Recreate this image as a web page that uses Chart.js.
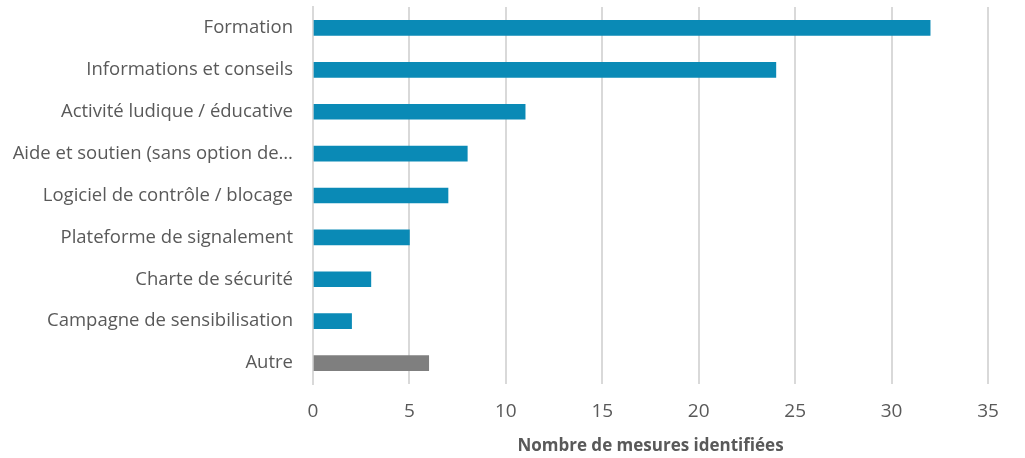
<!DOCTYPE html>
<html>
<head>
<meta charset="utf-8">
<script src="https://cdn.jsdelivr.net/npm/chart.js@4/dist/chart.umd.min.js"></script>
<style>
    html, body { margin: 0; padding: 0; background: #fff; }
    #wrap { width: 1025px; height: 458px; position: relative; }
</style>
</head>
<body>
<div id="wrap"><canvas id="myChart"></canvas></div>
<script>
const categories = [
    'Formation',
    'Informations et conseils',
    'Activité ludique / éducative',
    'Aide et soutien (sans option de…',
    'Logiciel de contrôle / blocage',
    'Plateforme de signalement',
    'Charte de sécurité',
    'Campagne de sensibilisation',
    'Autre'
];
const mesures = [32, 24, 11, 8, 7, 5, 3, 2, 6];
const xTicks = [0, 5, 10, 15, 20, 25, 30, 35];

const blue = '#0a8ab6';
const grey = '#7f7f7f';
const barColors = categories.map((c) => c === 'Autre' ? grey : blue);

const fontFamily = '"Open Sans", Lato, sans-serif';

var ctx = document.getElementById('myChart').getContext('2d');

var chart = new Chart(ctx, {
    type: 'bar',
    data: {
        labels: categories,
        datasets: [
            {
                label: 'Nombre de mesures identifiées',
                backgroundColor: barColors,
                data: mesures,
                barThickness: 15
            }
        ]
    },
    options: {
        indexAxis: 'y',
        responsive: true,
        maintainAspectRatio: false,
        animation: false,
        layout: { padding: { top: 7, right: 37, left: 0, bottom: 0 } },
        plugins: {
            legend: { display: false },
            tooltip: { enabled: false }
        },
        scales: {
            x: {
                min: 0,
                max: 35,
                afterBuildTicks: (scale) => {
                    scale.ticks = xTicks.map((v) => ({ value: v }));
                },
                grid: { color: '#d9d9d9', lineWidth: 2, drawTicks: false },
                border: { display: false },
                ticks: {
                    color: '#595959',
                    padding: 16,
                    font: { family: fontFamily, size: 19 }
                },
                title: {
                    display: true,
                    text: 'Nombre de mesures identifiées',
                    color: '#595959',
                    font: { family: fontFamily, size: 17, weight: 'bold' },
                    padding: { top: 8, bottom: 2 }
                },
                afterFit: (scale) => {
                    scale.height = 74;
                    scale.paddingLeft = 0;
                    scale.paddingRight = 0;
                }
            },
            y: {
                grid: { display: false, drawTicks: false },
                border: { display: true, color: '#d9d9d9', width: 2 },
                ticks: {
                    color: '#595959',
                    padding: 20,
                    font: { family: fontFamily, size: 18.5 }
                },
                afterFit: (scale) => {
                    scale.width = 313;
                    scale.paddingTop = 0;
                    scale.paddingBottom = 0;
                }
            }
        }
    }
});
</script>
</body>
</html>
